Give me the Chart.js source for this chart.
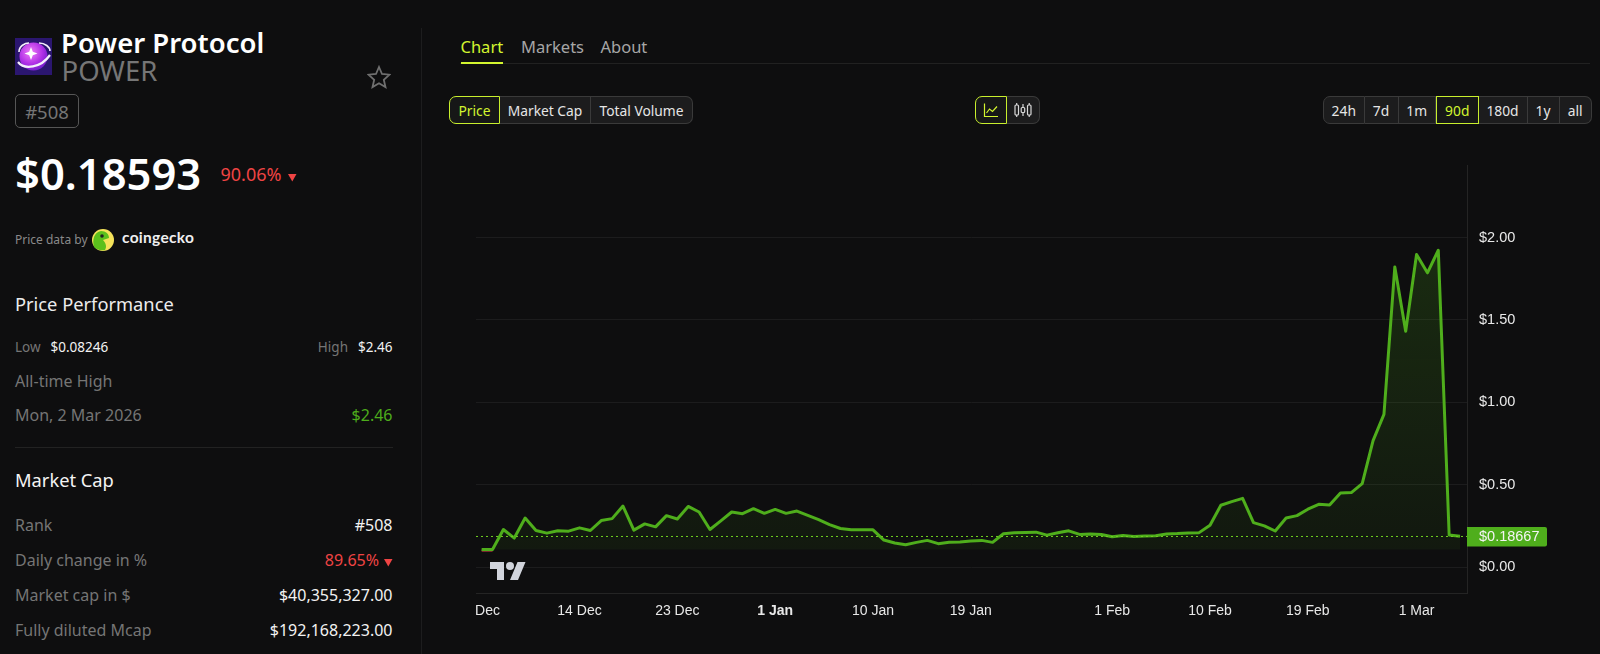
<!DOCTYPE html>
<html><head><meta charset="utf-8">
<script src="https://cdn.jsdelivr.net/npm/chart.js@4/dist/chart.umd.min.js"></script>
<style>
html,body{margin:0;padding:0;background:#0e0e0f;width:1600px;height:654px;overflow:hidden;font-family:"Noto Sans",sans-serif;color:#fff}
.t{position:absolute;white-space:nowrap;line-height:1;transform:translateY(-50%)}
.r{transform:translate(-100%,-50%)}
.g{color:#757575}.w{color:#f2f2f2}.red{color:#ef4444}
.box{position:absolute;box-sizing:border-box}
.seg{position:absolute;box-sizing:border-box;top:96px;height:28px;background:#1c1c1d;border:1px solid #3a3a3a;border-left:none;color:#e6e6e6;font-size:13.8px;display:flex;align-items:center;justify-content:center}
.on{border:1px solid #c8ef2d;color:#d3f52f;z-index:2;background:#161717}
#c{position:absolute;left:476px;top:150px}
</style></head><body>
<div class="box" style="left:421px;top:28px;width:1px;height:626px;background:#1d1d1e"></div>

<svg class="box" style="left:15px;top:38px" width="37" height="37" viewBox="0 0 37 37">
<rect width="37" height="37" fill="#2b1670"/>
<defs><radialGradient id="pl" cx="40%" cy="35%" r="70%"><stop offset="0" stop-color="#f07cf8"/><stop offset=".6" stop-color="#b02fe6"/><stop offset="1" stop-color="#6d1bc8"/></radialGradient></defs>
<circle cx="18.5" cy="18.500" r="14" fill="url(#pl)"/>
<path d="M3 24C9 32 26 30 35 17" fill="none" stroke="#f4eefb" stroke-width="2.200"/>
<path d="M4 14C4 8 10 5 14 5M24 5C30 5 35 9 35 13" fill="none" stroke="#f4eefb" stroke-width="1.600"/>
<path d="M16 9l1.800 4.700 4.700 1.800-4.700 1.800L16 22l-1.800-4.700L9.500 15.500l4.700-1.800z" fill="#fff"/>
</svg>
<div class="t" style="left:61px;top:42.500px;font-size:27.500px;font-weight:600">Power Protocol</div>
<div class="t" style="left:61.500px;top:70.500px;font-size:27.500px;color:#767676">POWER</div>
<svg class="box" style="left:367px;top:65px" width="24" height="24" viewBox="0 0 24 24"><path d="M12 2l3 7 7.500.7-5.700 5 1.700 7.400L12 18.200l-6.500 3.900 1.700-7.400-5.700-5L9 9z" fill="none" stroke="#6f6f6f" stroke-width="1.800"/></svg>
<div class="box" style="left:15px;top:94px;width:64px;height:34px;border:1px solid #565656;border-radius:5px"></div>
<div class="t g" style="left:47px;top:112px;font-size:18.500px;transform:translate(-50%,-50%)">#508</div>
<div class="t" style="left:15px;top:174px;font-size:43.500px;font-weight:600">$0.18593</div>
<div class="t red" style="left:220.500px;top:174px;font-size:18px">90.06%</div>
<svg class="box" style="left:288px;top:173px" width="9" height="9"><path d="M0 1h8.500L4.300 8.500z" fill="#ef4444"/></svg>
<div class="t" style="left:15px;top:240px;font-size:12px;color:#8a8a8a">Price data by</div>
<svg class="box" style="left:91px;top:228px" width="24" height="24" viewBox="0 0 24 24"><circle cx="12" cy="12" r="11" fill="#f4e25a"/><path d="M3 19C1 12 3 4 10 3c5 0 8 3 8 7l-6 2c3 3 4 7 2 10-5 1-9-1-11-3z" fill="#5bc01c"/><circle cx="11" cy="8" r="1.800" fill="#222"/></svg>
<div class="t" style="left:122px;top:238px;font-size:15.500px;font-weight:700;font-family:Lato,sans-serif;color:#efefef;letter-spacing:.3px">coingecko</div>

<div class="t" style="left:15px;top:304px;font-size:18.300px;color:#ececec">Price Performance</div>
<div class="t g" style="left:15px;top:348px;font-size:13.500px">Low</div>
<div class="t w" style="left:50.500px;top:348px;font-size:13.500px">$0.08246</div>
<div class="t g r" style="left:348px;top:348px;font-size:13.500px">High</div>
<div class="t w r" style="left:392.500px;top:348px;font-size:13.500px">$2.46</div>
<div class="t g" style="left:15px;top:381px;font-size:16px">All-time High</div>
<div class="t g" style="left:15px;top:415px;font-size:16px">Mon, 2 Mar 2026</div>
<div class="t r" style="left:392.500px;top:415px;font-size:16px;color:#4dac1c">$2.46</div>
<div class="box" style="left:15px;top:447px;width:378px;height:1px;background:#222"></div>
<div class="t" style="left:15px;top:480px;font-size:18.300px;color:#f4f4f4">Market Cap</div>
<div class="t g" style="left:15px;top:525px;font-size:16px">Rank</div>
<div class="t w r" style="left:392.500px;top:525px;font-size:16px">#508</div>
<div class="t g" style="left:15px;top:560px;font-size:16px">Daily change in %</div>
<div class="t red r" style="left:379px;top:560px;font-size:16px">89.65%</div>
<svg class="box" style="left:384px;top:558px" width="9" height="9"><path d="M0 1h8.500L4.300 8.500z" fill="#ef4444"/></svg>
<div class="t g" style="left:15px;top:595px;font-size:16px">Market cap in $</div>
<div class="t w r" style="left:392.500px;top:595px;font-size:16px">$40,355,327.00</div>
<div class="t g" style="left:15px;top:630px;font-size:16px">Fully diluted Mcap</div>
<div class="t w r" style="left:392.500px;top:630px;font-size:16px">$192,168,223.00</div>

<div class="t" style="left:460.500px;top:46.500px;font-size:16.500px;color:#d3f52f">Chart</div>
<div class="t" style="left:521px;top:46.500px;font-size:16.500px;color:#a6a6a6">Markets</div>
<div class="t" style="left:600.500px;top:46.500px;font-size:16.500px;color:#a6a6a6">About</div>
<div class="box" style="left:460px;top:63px;width:1130px;height:1px;background:#212121"></div>
<div class="box" style="left:460.500px;top:62px;width:42px;height:2px;background:#d3f52f"></div>

<div class="seg on" style="left:449px;width:51px;border-radius:7px 0 0 7px">Price</div>
<div class="seg" style="left:500px;width:91px">Market Cap</div>
<div class="seg" style="left:591px;width:102px;border-radius:0 7px 7px 0">Total Volume</div>

<div class="seg on" style="left:975px;width:32px;border-radius:7px 0 0 7px"><svg width="16" height="16" viewBox="0 0 16 16"><path d="M1.500 1.500v13h13.500" fill="none" stroke="#d3f52f" stroke-width="1.200"/><path d="M3.500 11l3-4 3 2.500 4.500-5" fill="none" stroke="#d3f52f" stroke-width="1.200"/></svg></div>
<div class="seg" style="left:1007px;width:33px;border-radius:0 7px 7px 0"><svg width="20" height="16" viewBox="0 0 20 16"><g fill="none" stroke="#d8d8d8" stroke-width="1.200"><rect x="2" y="3" width="3.500" height="10" rx="1"/><path d="M3.700 1v2M3.700 13v2"/><rect x="8.200" y="5.500" width="3.500" height="5" rx="1"/><path d="M10 2v3.500M10 10.500V14"/><rect x="14.500" y="3" width="3.500" height="10" rx="1"/><path d="M16.200 1v2M16.200 13v2"/></g></svg></div>

<div class="seg" style="left:1323px;width:41.500px;border-left:1px solid #3a3a3a;border-radius:7px 0 0 7px">24h</div>
<div class="seg" style="left:1364.500px;width:34px">7d</div>
<div class="seg" style="left:1398.500px;width:37.500px">1m</div>
<div class="seg on" style="left:1436px;width:42.500px">90d</div>
<div class="seg" style="left:1478.500px;width:49px">180d</div>
<div class="seg" style="left:1527.500px;width:32px">1y</div>
<div class="seg" style="left:1559.500px;width:32.500px;border-radius:0 7px 7px 0">all</div>

<canvas id="c" width="1124" height="480"></canvas>
<svg class="box" style="left:490px;top:558px" width="36" height="28" viewBox="0 0 36 28"><path d="M14 22H7V11H0V4h14v18zM28 22h-8l7.500-18h8L28 22z" fill="#d1d4dc"/><circle cx="20" cy="8" r="4" fill="#d1d4dc"/></svg>

<script>
const dates = ["5 Dec","6 Dec","7 Dec","8 Dec","9 Dec","10 Dec","11 Dec","12 Dec","13 Dec","14 Dec","15 Dec","16 Dec","17 Dec","18 Dec","19 Dec","20 Dec","21 Dec","22 Dec","23 Dec","24 Dec","25 Dec","26 Dec","27 Dec","28 Dec","29 Dec","30 Dec","31 Dec","1 Jan","2 Jan","3 Jan","4 Jan","5 Jan","6 Jan","7 Jan","8 Jan","9 Jan","10 Jan","11 Jan","12 Jan","13 Jan","14 Jan","15 Jan","16 Jan","17 Jan","18 Jan","19 Jan","20 Jan","21 Jan","22 Jan","23 Jan","24 Jan","25 Jan","26 Jan","27 Jan","28 Jan","29 Jan","30 Jan","31 Jan","1 Feb","2 Feb","3 Feb","4 Feb","5 Feb","6 Feb","7 Feb","8 Feb","9 Feb","10 Feb","11 Feb","12 Feb","13 Feb","14 Feb","15 Feb","16 Feb","17 Feb","18 Feb","19 Feb","20 Feb","21 Feb","22 Feb","23 Feb","24 Feb","25 Feb","26 Feb","27 Feb","28 Feb","1 Mar","2 Mar","3 Mar","4 Mar","5 Mar"];
const prices = [.108,.108,.229,.177,.299,.223,.207,.221,.219,.239,.223,.283,.295,.371,.225,.263,.245,.313,.293,.369,.335,.229,.281,.335,.325,.355,.327,.351,.327,.341,.315,.289,.259,.235,.227,.227,.227,.165,.147,.137,.151,.163,.143,.151,.153,.159,.163,.151,.203,.209,.211,.213,.195,.209,.221,.199,.201,.199,.185,.193,.187,.189,.191,.202,.204,.208,.21,.255,.376,.398,.418,.271,.251,.22,.299,.313,.352,.382,.378,.451,.453,.507,.768,.927,1.822,1.432,1.897,1.786,1.923,.196,.188];
const dateTicks = ["5 Dec","14 Dec","23 Dec","1 Jan","10 Jan","19 Jan","1 Feb","10 Feb","19 Feb","1 Mar"];
const boldTick = "1 Jan";
const priceTicks = [0,.5,1,1.5,2];
const lastPrice = 0.18667;
const redStart = [.102,.102];
const xRange = [-0.52,90.64];
const yRange = [-0.158,2.44];
const GREEN = "#4fae1c";

const tagPlugin = {id:"tag",afterDraw(ch){
  const y=ch.scales.y, c=ch.ctx, py=y.getPixelForValue(lastPrice), l=y.left;
  c.save();c.fillStyle=GREEN;c.beginPath();c.roundRect(l,py-9.5,80,19.5,[0,2,2,0]);c.fill();
  c.fillStyle="#f4f4f4";c.font='14.5px "Liberation Sans"';c.textBaseline="middle";c.textAlign="left";
  c.fillText("$"+lastPrice.toFixed(5),l+12,py+.5);c.restore();
}};
new Chart(document.getElementById("c"),{
  type:"line",
  data:{datasets:[
    {data:redStart.map((v,i)=>({x:i,y:v})),borderColor:"#e2404a",borderWidth:2,pointRadius:0,fill:false,order:3},
    {data:prices.map((v,i)=>({x:i,y:v,d:dates[i]})),borderColor:GREEN,borderWidth:3,pointRadius:0,tension:0,borderJoinStyle:"round",
     fill:{value:prices[0]},
     backgroundColor(ctx){const a=ctx.chart.chartArea;if(!a)return"transparent";
       const g=ctx.chart.ctx.createLinearGradient(0,a.top,0,a.bottom);
       g.addColorStop(0,"rgba(79,174,28,.22)");g.addColorStop(1,"rgba(79,174,28,.05)");return g;},order:2},
    {data:xRange.map(x=>({x,y:lastPrice})),borderColor:"#6fd01f",borderWidth:1,borderDash:[2,3],pointRadius:0,fill:false,order:1}
  ]},
  plugins:[tagPlugin],
  options:{
    responsive:false,animation:false,devicePixelRatio:1,
    layout:{padding:{top:15,left:0,right:0,bottom:0}},
    plugins:{legend:{display:false},tooltip:{enabled:false}},
    scales:{
      x:{type:"linear",min:xRange[0],max:xRange[1],
        afterBuildTicks(s){s.ticks=dateTicks.map(d=>({value:dates.indexOf(d)}));},
        afterFit(s){s.height=36.7;s.paddingLeft=0;s.paddingRight=0;},
        grid:{display:false,drawTicks:false},border:{color:"#242424",width:1},
        ticks:{maxRotation:0,autoSkip:false,padding:9,color:"#e8e8e8",
          callback:v=>dates[v],
          font(c){const b=c.tick&&dates[c.tick.value]===boldTick;return{family:'"Liberation Sans"',size:14,weight:b?"700":"400"};}}},
      y:{position:"right",min:yRange[0],max:yRange[1],
        afterBuildTicks(s){s.ticks=priceTicks.map(value=>({value}));},
        afterFit(s){s.width=133;s.paddingTop=0;s.paddingBottom=0;},
        grid:{color:"#1c1c1d",drawTicks:false},border:{color:"#242424",width:1},
        ticks:{padding:12,color:"#e8e8e8",font:{family:'"Liberation Sans"',size:14.5},callback:v=>"$"+v.toFixed(2)}}
    }
  }
});
</script>
</body></html>
